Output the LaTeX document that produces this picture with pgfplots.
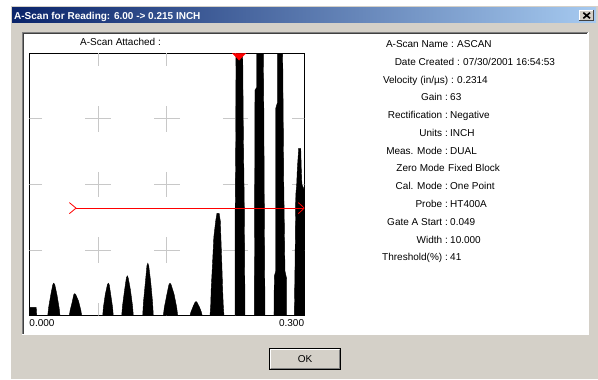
\documentclass[border=0pt]{standalone}
\usepackage{fontspec}
\setmainfont{Liberation Sans}
\usepackage{pgfplots}
\pgfplotsset{compat=1.18}
\definecolor{dlg}{RGB}{212,208,200}
\definecolor{tbA}{RGB}{10,36,106}
\definecolor{tbB}{RGB}{166,202,240}
\definecolor{gridc}{RGB}{200,200,200}
\definecolor{dkgray}{RGB}{128,128,128}
\definecolor{vdk}{RGB}{64,64,64}
\begin{document}
\begin{tikzpicture}[x=1bp,y=1bp,
  lbl/.style={font=\fontsize{10bp}{12bp}\selectfont, inner sep=0pt}]
\useasboundingbox (0,0) rectangle (598,379);
\fill[white] (0,0) rectangle (598,379);
% window
\fill[dlg] (10,0) rectangle (598,374);
\draw[white, line width=1bp] (10.5,0) -- (10.5,373.5) -- (598,373.5);
% title bar
\shade[left color=tbA, right color=tbB] (12,356) rectangle (596,371);
\node[anchor=base west, inner sep=0pt, text=white, font=\bfseries\fontsize{10bp}{12bp}\selectfont] at (14,359.5) {A-Scan for Reading: 6.00 -> 0.215 INCH};
% close button
\fill[dlg] (579,358) rectangle (594,369);
\draw[white, line width=1bp] (579.5,358) -- (579.5,368.5) -- (594,368.5);
\draw[vdk, line width=1bp] (579,358.5) -- (593.5,358.5) -- (593.5,369);
\draw[black, line width=1.6bp] (583.3,366.3) -- (590,360.7) (583.3,360.7) -- (590,366.3);
% inner panel
\fill[white] (22,44) rectangle (588,347);
\draw[dkgray, line width=1bp] (22.5,44) -- (22.5,346.5) -- (588,346.5);
\draw[vdk, line width=1bp] (23.5,45) -- (23.5,345.5) -- (587,345.5);
\draw[white, line width=1bp] (22,44.5) -- (588.5,44.5) -- (588.5,347);
% OK button
\fill[dlg] (269,9) rectangle (341,31);
\draw[black, line width=1bp] (269.5,9.5) rectangle (340.5,30.5);
\draw[white, line width=1bp] (270.5,11) -- (270.5,29.5) -- (339,29.5);
\draw[dkgray, line width=1bp] (271,10.5) -- (339.5,10.5) -- (339.5,29);
\node[lbl, anchor=base] at (305,16.8) {OK};
% chart title
\node[lbl, anchor=base west] at (80,333.5) {A-Scan Attached :};
% info list
\node[lbl, anchor=base east] at (454,331.5) {A-Scan Name :};
\node[lbl, anchor=base west] at (457,331.5) {ASCAN};
\node[lbl, anchor=base east] at (460,313.7) {Date Created :};
\node[lbl, anchor=base west] at (463,313.7) {07/30/2001 16:54:53};
\node[lbl, anchor=base east] at (454,296.0) {Velocity (in/µs) :};
\node[lbl, anchor=base west] at (457,296.0) {0.2314};
\node[lbl, anchor=base east] at (448,278.2) {Gain :};
\node[lbl, anchor=base west] at (450,278.2) {63};
\node[lbl, anchor=base east] at (448,260.4) {Rectification :};
\node[lbl, anchor=base west] at (450,260.4) {Negative};
\node[lbl, anchor=base east] at (448,242.6) {Units :};
\node[lbl, anchor=base west] at (450,242.6) {INCH};
\node[lbl, anchor=base east] at (448,224.9) {Meas. Mode :};
\node[lbl, anchor=base west] at (450,224.9) {DUAL};
\node[lbl, anchor=base east] at (445,207.1) {Zero Mode};
\node[lbl, anchor=base west] at (448,207.1) {Fixed Block};
\node[lbl, anchor=base east] at (448,189.3) {Cal. Mode :};
\node[lbl, anchor=base west] at (450,189.3) {One Point};
\node[lbl, anchor=base east] at (448,171.6) {Probe :};
\node[lbl, anchor=base west] at (450,171.6) {HT400A};
\node[lbl, anchor=base east] at (448,153.8) {Gate A Start :};
\node[lbl, anchor=base west] at (450,153.8) {0.049};
\node[lbl, anchor=base east] at (448,136.0) {Width :};
\node[lbl, anchor=base west] at (450,136.0) {10.000};
\node[lbl, anchor=base east] at (448,118.3) {Threshold(\%) :};
\node[lbl, anchor=base west] at (450,118.3) {41};
% A-scan plot
\begin{axis}[at={(29.3bp,63.3bp)}, anchor=south west,
  width=275bp, height=262.4bp, scale only axis,
  xmin=0, xmax=0.3, ymin=0, ymax=100,
  axis line style={black, line width=0.9bp},
  ytick=\empty,
  xtick={0}, xticklabels={0.000},
  extra x ticks={0.3}, extra x tick labels={0.300},
  extra x tick style={grid=none, xticklabel style={anchor=north east}},
  major tick length=0pt,
  xticklabel style={anchor=north west, inner sep=0pt, yshift=-4bp,
    font=\fontsize{10bp}{12bp}\selectfont},
  clip marker paths=true]
% grid crosses
\addplot[only marks, mark=+, mark size=12.7bp, gridc, mark options={line width=1bp}]
 coordinates {
 (0.075,25) (0.15,25) (0.225,25)
 (0.075,50) (0.15,50) (0.225,50)
 (0.075,75) (0.15,75) (0.225,75)};
\addplot[only marks, mark=|, mark size=12.7bp, gridc, mark options={line width=1bp}]
 coordinates {(0.075,0) (0.15,0) (0.225,0) (0.075,100) (0.15,100) (0.225,100)};
\addplot[only marks, mark=-, mark size=12.7bp, gridc, mark options={line width=1bp}]
 coordinates {(0,25) (0,50) (0,75) (0.3,25) (0.3,50) (0.3,75)};
% A-scan trace
\addplot[fill=black, draw=black, line width=0.4bp] coordinates {
 (0,3.2) (0.0075,3.2) (0.0081,0)
 (0.0201,0) (0.0211,3.1) (0.0235,8.1) (0.0256,11.8) (0.0267,12.4) (0.0278,11.8) (0.0301,8.1) (0.0325,3.1) (0.0335,0)
 (0.0436,0) (0.0446,2.1) (0.0470,5.5) (0.0485,8.0) (0.0496,8.4) (0.0507,8.0) (0.0538,5.5) (0.0562,2.1) (0.0572,0)
 (0.0801,0) (0.0808,3.1) (0.0829,8.1) (0.0852,11.8) (0.0862,12.4) (0.0872,11.8) (0.0888,8.1) (0.0909,3.1) (0.0916,0)
 (0.1008,0) (0.1017,3.8) (0.1040,9.9) (0.1059,14.4) (0.1069,15.2) (0.1079,14.4) (0.1103,9.9) (0.1126,3.8) (0.1135,0)
 (0.1237,0) (0.1245,5) (0.1267,13) (0.1283,19) (0.1293,20) (0.1303,19) (0.1324,13) (0.1345,5) (0.1353,0)
 (0.1462,0) (0.1473,3.1) (0.1501,8.1) (0.1523,11.8) (0.1535,12.4) (0.1547,11.8) (0.1580,8.1) (0.1608,3.1) (0.1619,0)
 (0.1753,0) (0.1763,1.4) (0.1787,3.5) (0.1808,5.1) (0.1819,5.4) (0.1829,5.1) (0.1853,3.5) (0.1877,1.4) (0.1887,0)
 (0.1971,0) (0.1979,4) (0.1984,10) (0.1999,20) (0.2013,30) (0.2035,36.5) (0.2047,39) (0.2071,39) (0.2084,36) (0.2090,30) (0.2100,20) (0.2109,10) (0.2116,4) (0.2124,0)
 (0.2244,0) (0.2246,40) (0.2253,70) (0.2255,100) (0.2328,100) (0.2335,70) (0.2346,40) (0.2353,0)
 (0.2455,0) (0.2458,40) (0.2462,86) (0.2481,87) (0.2481,100) (0.2553,100) (0.2558,80) (0.2564,40) (0.2571,0)
 (0.2669,0) (0.2673,15) (0.2688,17) (0.2688,79) (0.2705,81) (0.2705,100) (0.2764,100) (0.2776,50) (0.2789,17) (0.2808,14) (0.2808,0)
 (0.2891,0) (0.2899,20) (0.2907,46) (0.2917,50) (0.2924,56) (0.2939,63.8) (0.2961,63.8) (0.2967,56) (0.2974,50) (0.3,48)
} \closedcycle;
% gate A
\addplot[red, line width=1bp] coordinates {(0.051,41) (0.3,41)};
\addplot[red, line width=0.8bp] coordinates {(0.0437,43.1) (0.051,41) (0.0437,38.9)};
\addplot[red, line width=0.8bp] coordinates {(0.2935,43.1) (0.3,41) (0.2935,38.9)};
% cursor marker
\addplot[fill=red, draw=red] coordinates {(0.2216,100) (0.2362,100) (0.2289,97.4)} -- cycle;
\end{axis}
\end{tikzpicture}
\end{document}
